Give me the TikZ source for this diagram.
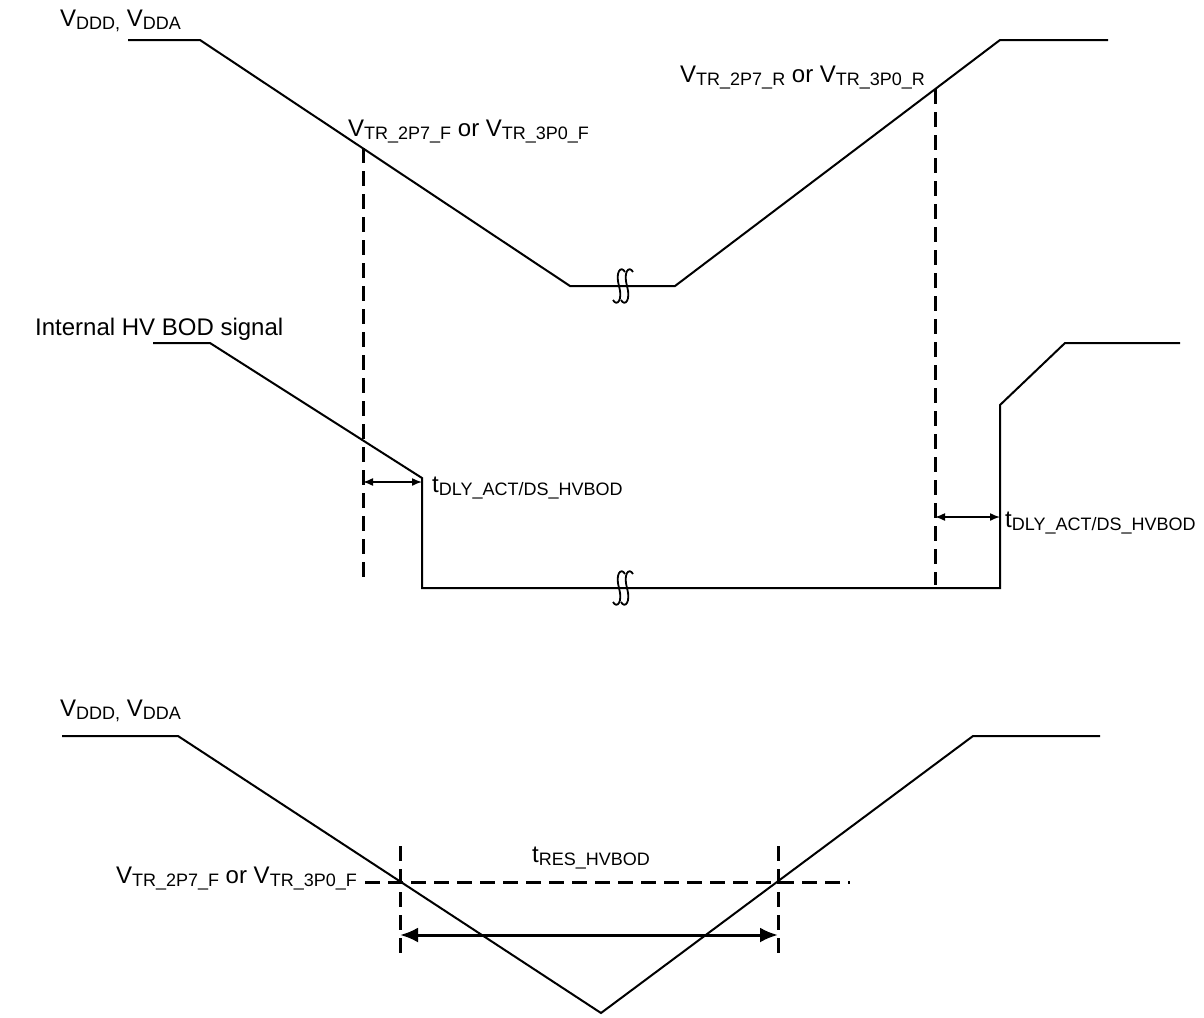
\documentclass[tikz,border=0pt]{standalone}
\usepackage{fontspec}
\setmainfont{Liberation Sans}
\usetikzlibrary{arrows.meta}
\newcommand\sbs[1]{\raisebox{-3pt}{\fontsize{18}{20}\selectfont #1}}
\begin{document}
\begin{tikzpicture}[x=1pt,y=-1pt,
  wave/.style={line width=2pt, line join=miter},
  vdash/.style={line width=3pt, dash pattern=on 15pt off 8pt},
  lbl/.style={anchor=base west, inner sep=0pt, font=\fontsize{24}{28}\selectfont},
  lblr/.style={anchor=base east, inner sep=0pt, font=\fontsize{24}{28}\selectfont},
  dimarrow/.style={line width=1.5pt, {Latex[length=10pt,width=8pt]}-{Latex[length=10pt,width=8pt]}},
  bigdim/.style={line width=3pt, {Latex[length=18pt,width=15pt]}-{Latex[length=18pt,width=15pt]}},
  brk/.style={line width=1.8pt}]
\useasboundingbox (0,0) rectangle (1204,1017);
\fill[white] (0,0) rectangle (1204,1017);

% ---------- top: VDDD waveform ----------
\coordinate (a0) at (128,40);
\coordinate (a1) at (200,40);
\coordinate (a2) at (570,286);
\coordinate (a3) at (675,286);
\coordinate (a4) at (1000,40);
\coordinate (a5) at (1108,40);
\draw[wave] (a0) -- (a1) -- (a2) -- (a3) -- (a4) -- (a5);
\foreach \cx in {619,627}{
  \draw[brk] (\cx+6,272) .. controls (\cx+2,265) and (\cx-4,272) .. (\cx,286)
             .. controls (\cx+4,300) and (\cx-2,307) .. (\cx-6,300);
}

\node[lbl] (vdd1) at (60,26) {V\sbs{DDD,} V\sbs{DDA}};
\node[lbl] (vtrf1) at (348,136) {V\sbs{TR\_2P7\_F} or V\sbs{TR\_3P0\_F}};
\node[lbl] (vtrr1) at (680,82) {V\sbs{TR\_2P7\_R} or V\sbs{TR\_3P0\_R}};

% dashed markers
\coordinate (d1t) at (363,148);
\coordinate (d1b) at (363,580);
\coordinate (d2t) at (935,89);
\coordinate (d2b) at (935,585);
\draw[vdash] (d1t) -- (d1b);
\draw[vdash] (d2t) -- (d2b);

% ---------- internal HV BOD signal ----------
\node[lbl] (bodl) at (35,335) {Internal HV BOD signal};
\coordinate (b0) at (153,343);
\coordinate (b1) at (210,343);
\coordinate (b2) at (422,478);
\coordinate (b3) at (422,588);
\coordinate (b4) at (1000,588);
\coordinate (b5) at (1000,405);
\coordinate (b6) at (1065,343);
\coordinate (b7) at (1180,343);
\draw[wave] (b0) -- (b1) -- (b2) -- (b3) -- (b4) -- (b5) -- (b6) -- (b7);
\foreach \cx in {619,627}{
  \draw[brk] (\cx+6,574) .. controls (\cx+2,567) and (\cx-4,574) .. (\cx,588)
             .. controls (\cx+4,602) and (\cx-2,609) .. (\cx-6,602);
}

\coordinate (t1l) at (363,482);
\coordinate (t1r) at (422,482);
\draw[dimarrow] (t1l) -- (t1r);
\node[lbl] (tdly1) at (432,492) {t\sbs{DLY\_ACT/DS\_HVBOD}};
\coordinate (t2l) at (935,517);
\coordinate (t2r) at (1000,517);
\draw[dimarrow] (t2l) -- (t2r);
\node[lbl] (tdly2) at (1005,527) {t\sbs{DLY\_ACT/DS\_HVBOD}};

% ---------- bottom waveform ----------
\node[lbl] (vdd2) at (60,716) {V\sbs{DDD,} V\sbs{DDA}};
\coordinate (c0) at (62,736);
\coordinate (c1) at (178,736);
\coordinate (c2) at (601,1013);
\coordinate (c3) at (973,736);
\coordinate (c4) at (1100,736);
\draw[wave] (c0) -- (c1) -- (c2) -- (c3) -- (c4);

\node[lblr] (vtrf2) at (357,883) {V\sbs{TR\_2P7\_F} or V\sbs{TR\_3P0\_F}};
\coordinate (h0) at (365,882);
\coordinate (h1) at (850,882);
\draw[vdash] (h0) -- (h1);
\coordinate (e1t) at (400,846);
\coordinate (e1b) at (400,960);
\coordinate (e2t) at (778,846);
\coordinate (e2b) at (778,960);
\draw[vdash] (e1t) -- (e1b);
\draw[vdash] (e2t) -- (e2b);
\coordinate (r0) at (400,935);
\coordinate (r1) at (778,935);
\draw[bigdim] (r0) -- (r1);
\node[lbl] (tres) at (532,862) {t\sbs{RES\_HVBOD}};
\end{tikzpicture}
\end{document}
